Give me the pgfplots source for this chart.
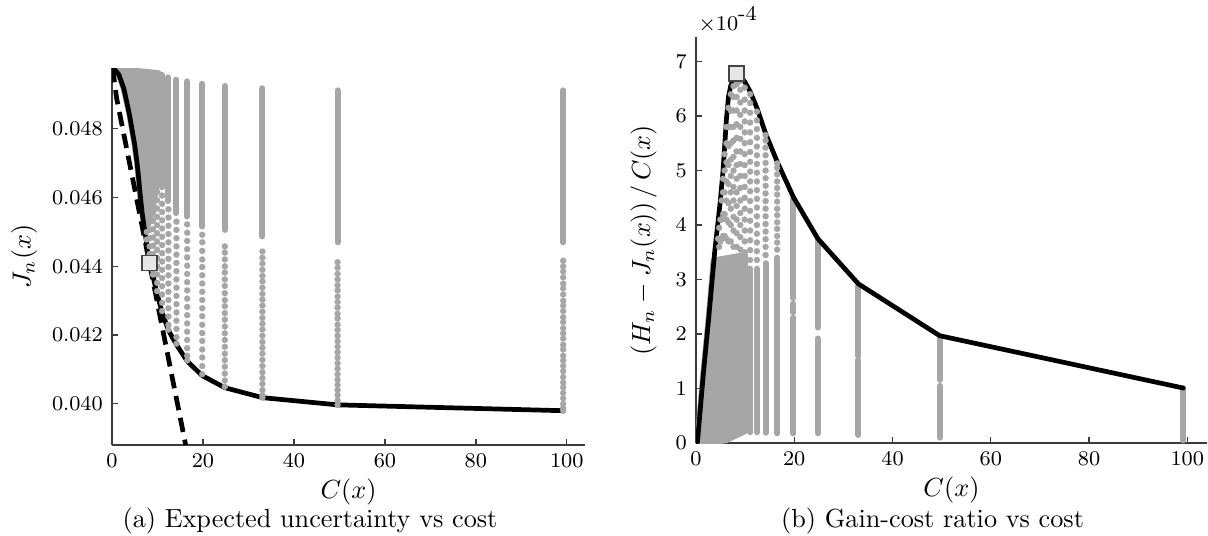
\documentclass[border=0pt]{standalone}
\usepackage{pgfplots}
\pgfplotsset{compat=1.18}
\definecolor{dotgray}{RGB}{166,166,166}
\definecolor{axgray}{RGB}{60,60,60}
\definecolor{sqfill}{RGB}{230,230,230}
\definecolor{sqdraw}{RGB}{70,70,70}
\pgfplotsset{
  base/.style={scale only axis, axis lines*=left,
    axis line style={draw=axgray,line width=0.5pt},
    tick style={draw=axgray,line width=0.5pt}, tick align=inside,
    major tick length=2.4pt, xmin=0, xmax=104, xtick={0,20,40,60,80,100},
    ticklabel style={font=\footnotesize}, unbounded coords=jump, clip=true},
  dots/.style={dotgray, only marks, mark=*, mark size=1.15pt, mark options={solid, fill=dotgray, draw=dotgray, line width=0.1pt}},
  segs/.style={dotgray, line width=2.3pt, line cap=round, no marks},
  front/.style={black, line width=1.8pt, line join=round, line cap=round, no marks},
  sq/.style={only marks, mark=square*, mark size=2.9pt, mark options={solid, fill=sqfill, draw=sqdraw, line width=0.6pt}}
}
\begin{document}
\begin{tikzpicture}
\path[use as bounding box] (0,0) rectangle (461pt,204.2pt);
% ---------------- (a) ----------------
\begin{axis}[base, at={(42.75pt,34.35pt)}, anchor=south west,
  width=180.5pt, height=143.9pt,
  ymin=0.0388, ymax=0.04977,
  ytick={0.040,0.042,0.044,0.046,0.048}, scaled y ticks=false,
  yticklabel style={/pgf/number format/.cd, fixed, fixed zerofill, precision=3},
  xlabel={$C(x)$}, ylabel={$J_n(x)$},
  every axis x label/.style={at={(axis description cs:0.5,-0.1234)}, anchor=center},
  every axis y label/.style={at={(axis description cs:-0.186,0.5)}, rotate=90, anchor=center}]
% dense region of gray points
\addplot[fill=dotgray, draw=dotgray, line width=2.3pt, line join=round, forget plot] coordinates {
(0.3,0.04975)(10.2,0.04962)(10.2,0.0467)(9.6,0.0462)(8.6,0.0455)(7.6,0.0451)(7.09,0.04512)
(6.2,0.04608)(5.51,0.04701)(4.96,0.04756)(3.8,0.04844)(2.6,0.04917)(1.5,0.04958)} --cycle;
% dense upper parts of the columns
\addplot[segs, forget plot] coordinates {
(99.2,0.04912)(99.2,0.04470) (99.2,nan)
(49.6,0.04912)(49.6,0.04470) (49.6,nan)
(33.07,0.04918)(33.07,0.04487) (33.07,nan)
(24.8,0.04925)(24.8,0.04506) (24.8,nan)
(19.84,0.04931)(19.84,0.04516) (19.84,nan)
(16.53,0.04938)(16.53,0.04545) (16.53,nan)
(14.17,0.04943)(14.17,0.04555) (14.17,nan)
(12.4,0.04950)(12.4,0.04590) (12.4,nan)
(11.02,0.04957)(11.02,0.04630)};
% single points
\addplot[dots, forget plot] table {
x y
99.2 0.04416
99.2 0.04400
99.2 0.04385
99.2 0.04368
99.2 0.04350
99.2 0.04336
99.2 0.04318
99.2 0.04300
99.2 0.04286
99.2 0.04270
99.2 0.04252
99.2 0.04238
99.2 0.04220
99.2 0.04205
99.2 0.04190
99.2 0.04172
99.2 0.04158
99.2 0.04140
99.2 0.04126
99.2 0.04110
99.2 0.04095
99.2 0.04078
99.2 0.04062
99.2 0.04048
99.2 0.04032
99.2 0.04016
99.2 0.04000
99.2 0.03988
99.2 0.03980
49.6 0.04412
49.6 0.04396
49.6 0.04378
49.6 0.04362
49.6 0.04345
49.6 0.04330
49.6 0.04312
49.6 0.04296
49.6 0.04280
49.6 0.04262
49.6 0.04248
49.6 0.04230
49.6 0.04215
49.6 0.04198
49.6 0.04182
49.6 0.04166
49.6 0.04150
49.6 0.04134
49.6 0.04118
49.6 0.04102
49.6 0.04086
49.6 0.04070
49.6 0.04055
49.6 0.04040
49.6 0.04025
49.6 0.04010
49.6 0.03997
33.07 0.04443
33.07 0.04425
33.07 0.04408
33.07 0.04390
33.07 0.04372
33.07 0.04356
33.07 0.04338
33.07 0.04320
33.07 0.04303
33.07 0.04286
33.07 0.04268
33.07 0.04250
33.07 0.04233
33.07 0.04216
33.07 0.04198
33.07 0.04180
33.07 0.04163
33.07 0.04146
33.07 0.04128
33.07 0.04110
33.07 0.04092
33.07 0.04075
33.07 0.04058
33.07 0.04040
33.07 0.04025
33.07 0.04018
24.8 0.04458
24.8 0.04440
24.8 0.04420
24.8 0.04400
24.8 0.04382
24.8 0.04362
24.8 0.04343
24.8 0.04322
24.8 0.04302
24.8 0.04284
24.8 0.04264
24.8 0.04245
24.8 0.04225
24.8 0.04205
24.8 0.04186
24.8 0.04166
24.8 0.04146
24.8 0.04127
24.8 0.04108
24.8 0.04088
24.8 0.04068
24.8 0.04050
19.84 0.04492
19.84 0.04470
19.84 0.04445
19.84 0.04420
19.84 0.04398
19.84 0.04374
19.84 0.04350
19.84 0.04326
19.84 0.04302
19.84 0.04278
19.84 0.04255
19.84 0.04230
19.84 0.04206
19.84 0.04183
19.84 0.04158
19.84 0.04135
19.84 0.04110
19.84 0.04086
16.53 0.04522
16.53 0.04498
16.53 0.04474
16.53 0.04450
16.53 0.04426
16.53 0.04402
16.53 0.04378
16.53 0.04354
16.53 0.04330
16.53 0.04306
16.53 0.04282
16.53 0.04258
16.53 0.04234
16.53 0.04210
16.53 0.04186
16.53 0.04162
16.53 0.04140
16.53 0.04126
14.17 0.04530
14.17 0.04506
14.17 0.04482
14.17 0.04458
14.17 0.04434
14.17 0.04410
14.17 0.04386
14.17 0.04362
14.17 0.04338
14.17 0.04314
14.17 0.04290
14.17 0.04266
14.17 0.04242
14.17 0.04218
14.17 0.04194
14.17 0.04175
12.4 0.04566
12.4 0.04542
12.4 0.04518
12.4 0.04494
12.4 0.04470
12.4 0.04446
12.4 0.04422
12.4 0.04398
12.4 0.04374
12.4 0.04350
12.4 0.04326
12.4 0.04302
12.4 0.04278
12.4 0.04254
12.4 0.04230
12.4 0.04216
11.02 0.04606
11.02 0.04582
11.02 0.04558
11.02 0.04534
11.02 0.04510
11.02 0.04486
11.02 0.04462
11.02 0.04438
11.02 0.04414
11.02 0.04390
11.02 0.04366
11.02 0.04342
11.02 0.04318
11.02 0.04294
11.02 0.04270
9.92 0.04640
9.92 0.04616
9.92 0.04592
9.92 0.04568
9.92 0.04544
9.92 0.04520
9.92 0.04496
9.92 0.04472
9.92 0.04448
9.92 0.04424
9.92 0.04400
9.92 0.04376
9.92 0.04352
9.92 0.04328
9.02 0.04580
9.02 0.04556
9.02 0.04532
9.02 0.04508
9.02 0.04484
9.02 0.04460
9.02 0.04436
9.02 0.04412
9.02 0.04388
9.02 0.04376
8.27 0.04530
8.27 0.04506
8.27 0.04482
8.27 0.04458
8.27 0.04436
8.27 0.04420
7.63 0.04500
7.63 0.04478
};
% dashed line
\addplot[black, line width=1.8pt, dash pattern=on 5.5pt off 3pt, no marks, forget plot] coordinates {
(0.1,0.04977)(0.5,0.0494)(1.0,0.0489)(16.2,0.0388)};
% frontier
\addplot[front, forget plot] coordinates {
(0.3,0.04977)(1.5,0.04958)(2.6,0.04917)(3.8,0.04844)(4.96,0.04756)(5.51,0.04701)(5.84,0.04659)
(6.2,0.04608)(6.61,0.04557)(7.09,0.04512)(7.63,0.04467)(8.27,0.04410)(9.02,0.04371)(9.92,0.04319)
(11.02,0.04266)(12.4,0.04214)(14.17,0.04172)(16.53,0.04124)(19.84,0.04082)(24.8,0.04047)
(33.07,0.04018)(49.6,0.03997)(99.2,0.03980)};
\addplot[sq, forget plot] coordinates {(8.27,0.0441)};
\end{axis}
% ---------------- (b) ----------------
\begin{axis}[base, name=R, at={(265.6pt,35.1pt)}, anchor=south west,
  width=195pt, height=155pt,
  ymin=0, ymax=7.45, ytick={0,1,2,3,4,5,6,7},
  xlabel={$C(x)$}, ylabel={$(H_n-J_n(x))\,/\,C(x)$},
  every axis x label/.style={at={(axis description cs:0.5,-0.1155)}, anchor=center},
  every axis y label/.style={at={(axis description cs:-0.1026,0.5)}, rotate=90, anchor=center}]
\addplot[fill=dotgray, draw=dotgray, line width=2.3pt, line join=round, forget plot] coordinates {
(0.3,0)(1.5,1.27)(2.6,2.3)(3.6,3.35)(10.0,3.45)(10.0,0.22)(6,0.05)} --cycle;
\addplot[segs, forget plot] coordinates {
(99.2,0.05)(99.2,1.0) (99.2,nan)
(49.6,0.10)(49.6,1.05) (49.6,nan)
(49.6,1.16)(49.6,1.95) (49.6,nan)
(33.07,0.15)(33.07,1.52) (33.07,nan)
(33.07,1.60)(33.07,2.88) (33.07,nan)
(24.8,0.18)(24.8,1.92) (24.8,nan)
(24.8,2.12)(24.8,3.72) (24.8,nan)
(19.84,0.18)(19.84,2.30) (19.84,nan)
(19.84,2.40)(19.84,2.56) (19.84,nan)
(19.84,2.66)(19.84,4.48) (19.84,nan)
(16.53,0.18)(16.53,3.40) (16.53,nan)
(14.17,0.19)(14.17,3.30) (14.17,nan)
(12.4,0.20)(12.4,3.20) (12.4,nan)
(11.02,0.20)(11.02,3.20)};
\addplot[dots, forget plot] table {
x y
16.53 3.55
16.53 3.68
16.53 3.80
16.53 3.93
16.53 4.05
16.53 4.18
16.53 4.30
16.53 4.43
16.53 4.56
16.53 4.68
16.53 4.80
16.53 4.93
16.53 5.05
16.53 5.13
14.17 3.45
14.17 3.60
14.17 3.74
14.17 3.88
14.17 4.02
14.17 4.16
14.17 4.30
14.17 4.44
14.17 4.58
14.17 4.72
14.17 4.86
14.17 5.00
14.17 5.14
14.17 5.28
14.17 5.42
14.17 5.55
14.17 5.65
12.4 3.36
12.4 3.52
12.4 3.68
12.4 3.84
12.4 4.00
12.4 4.16
12.4 4.32
12.4 4.48
12.4 4.64
12.4 4.80
12.4 4.96
12.4 5.12
12.4 5.28
12.4 5.44
12.4 5.60
12.4 5.76
12.4 5.92
12.4 6.08
11.02 3.36
11.02 3.54
11.02 3.72
11.02 3.90
11.02 4.08
11.02 4.26
11.02 4.44
11.02 4.62
11.02 4.80
11.02 4.98
11.02 5.16
11.02 5.34
11.02 5.52
11.02 5.70
11.02 5.88
11.02 6.06
11.02 6.24
11.02 6.40
9.92 3.50
9.92 3.70
9.92 3.90
9.92 4.10
9.92 4.30
9.92 4.50
9.92 4.70
9.92 4.90
9.92 5.10
9.92 5.30
9.92 5.50
9.92 5.70
9.92 5.90
9.92 6.10
9.92 6.30
9.92 6.52
9.02 3.55
9.02 3.78
9.02 4.00
9.02 4.22
9.02 4.45
9.02 4.68
9.02 4.90
9.02 5.12
9.02 5.35
9.02 5.58
9.02 5.80
9.02 6.02
9.02 6.25
9.02 6.48
9.02 6.64
8.27 3.60
8.27 3.85
8.27 4.10
8.27 4.35
8.27 4.60
8.27 4.85
8.27 5.10
8.27 5.35
8.27 5.60
8.27 5.85
8.27 6.10
8.27 6.35
8.27 6.58
7.63 3.60
7.63 3.90
7.63 4.15
7.63 4.45
7.63 4.70
7.63 5.00
7.63 5.25
7.63 5.55
7.63 5.80
7.63 6.10
7.63 6.35
7.63 6.55
7.09 3.70
7.09 4.00
7.09 4.30
7.09 4.60
7.09 4.90
7.09 5.20
7.09 5.50
7.09 5.80
7.09 6.10
7.09 6.40
6.61 3.70
6.61 4.05
6.61 4.40
6.61 4.75
6.61 5.10
6.61 5.45
6.61 5.80
6.61 6.15
6.2 3.75
6.2 4.10
6.2 4.45
6.2 4.80
6.2 5.15
6.2 5.50
6.2 5.80
5.84 3.80
5.84 4.20
5.84 4.60
5.84 5.00
5.84 5.30
5.51 3.80
5.51 4.20
5.51 4.60
5.51 4.85
5.22 3.75
5.22 4.10
5.22 4.45
4.96 3.70
4.96 4.10
4.72 3.60
4.72 3.95
4.51 3.75
};
\addplot[front, forget plot] coordinates {
(0.3,0.02)(1.5,1.27)(2.6,2.3)(3.8,3.5)(4.96,4.45)(5.51,5.0)(5.84,5.45)(6.2,5.95)(6.61,6.35)
(7.09,6.56)(7.63,6.68)(8.27,6.78)(9.02,6.72)(9.92,6.63)(11.02,6.45)(12.4,6.15)(14.17,5.68)
(16.53,5.16)(19.84,4.51)(24.8,3.75)(33.07,2.92)(49.6,1.97)(99.2,1.01)};
\addplot[sq, forget plot] coordinates {(8.27,6.78)};
\end{axis}
\node[anchor=base west, font=\footnotesize, inner sep=0pt] at ([xshift=0.8pt, yshift=2.5pt]R.north west) {$\times$10\raisebox{0.45em}{-4}};
\node[anchor=base] at (118.3pt,3pt) {(a) Expected uncertainty vs cost};
\node[anchor=base] at (355.9pt,3pt) {(b) Gain-cost ratio vs cost};
\end{tikzpicture}
\end{document}
